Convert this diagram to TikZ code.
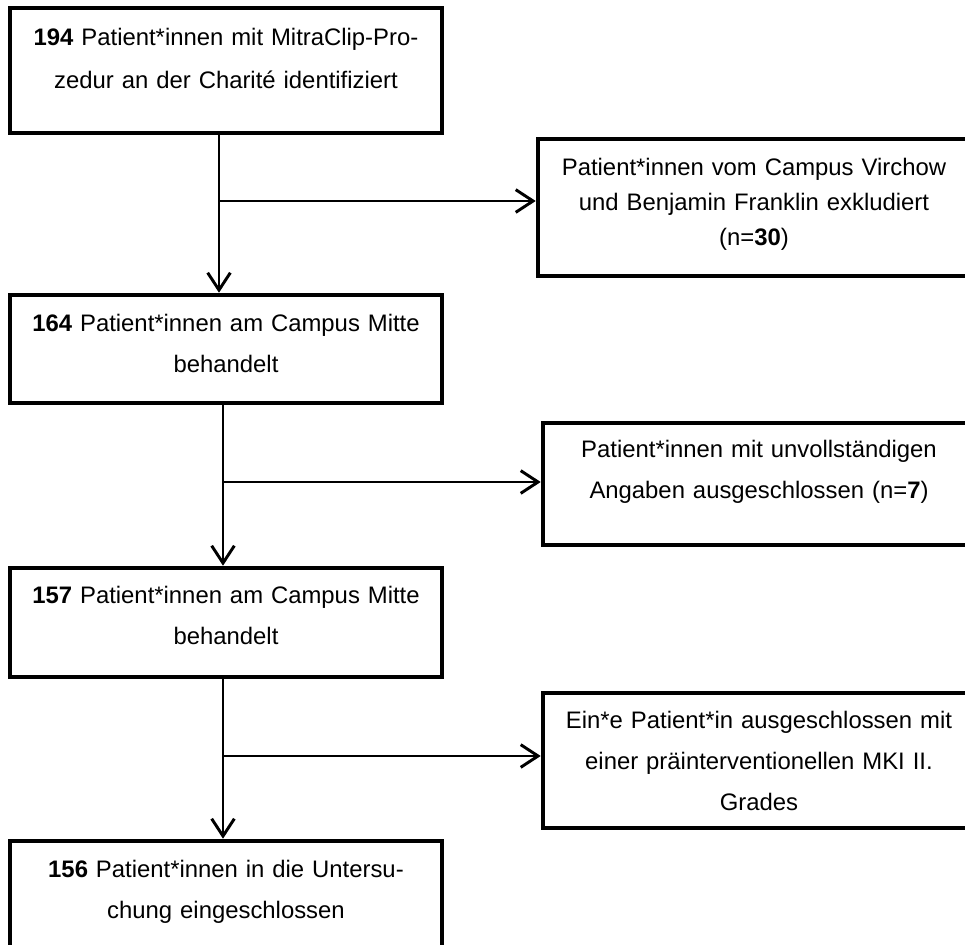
\documentclass[tikz,border=0pt]{standalone}
\usepackage{fontspec}
\setmainfont{Liberation Sans}
\usetikzlibrary{arrows.meta}
\tikzset{flowbox/.style 2 args={draw,line width=3.4pt,inner sep=0pt,text width=324pt,align=center,text height=#1,text depth=#2}}
\tikzset{flowarrow/.style={line width=2.2pt,-{Straight Barb[length=13pt,width=17pt]}}}

\begin{document}
\begin{tikzpicture}[x=0.75pt,y=-0.75pt,font=\fontsize{17.9pt}{31.1pt}\selectfont]
    \useasboundingbox (0,0) rectangle (965,945);
    \clip (0,0) rectangle (965,945);
    \node[flowbox={28pt}{65.75pt},font=\fontsize{17.9pt}{32.25pt}\selectfont] (b1) at (226,70.5)
        {\textbf{194} Patient*innen mit MitraClip-Pro-\\zedur an der Charité identifiziert};
    \node[flowbox={27.5pt}{75.25pt},font=\fontsize{17.9pt}{26.25pt}\selectfont] (e1) at (754,207.5)
        {Patient*innen vom Campus Virchow\\und Benjamin Franklin exkludiert\\(n=\textbf{30})};
    \node[flowbox={27pt}{54pt}] (b2) at (226,349)
        {\textbf{164} Patient*innen am Campus Mitte\\behandelt};
    \node[flowbox={25.5pt}{66pt}] (e2) at (759,484)
        {Patient*innen mit unvollständigen\\Angaben ausgeschlossen (n=\textbf{7})};
    \node[flowbox={26.25pt}{55.5pt}] (b3) at (226,622.5)
        {\textbf{157} Patient*innen am Campus Mitte\\behandelt};
    \node[flowbox={26.25pt}{75pt}] (e3) at (759,760.5)
        {Ein*e Patient*in ausgeschlossen mit\\einer präinterventionellen MKI II.\\Grades};
    \node[flowbox={27pt}{55.5pt}] (b4) at (226,896)
        {\textbf{156} Patient*innen in die Untersu-\\chung eingeschlossen};

    % main flow
    \draw[flowarrow] ([xshift=-5.25pt]b1.south) -- ([xshift=-5.25pt]b2.north);
    \draw[flowarrow] ([xshift=-2.25pt]b2.south) -- ([xshift=-2.25pt]b3.north);
    \draw[flowarrow] ([xshift=-2.25pt]b3.south) -- ([xshift=-2.25pt]b4.north);

    % exclusions
    \coordinate (j1) at (219,201);
    \coordinate (j2) at (223,482);
    \coordinate (j3) at (223,756);
    \draw[flowarrow] (j1) -- (j1 -| e1.west);
    \draw[flowarrow] (j2) -- (j2 -| e2.west);
    \draw[flowarrow] (j3) -- (j3 -| e3.west);
\end{tikzpicture}
\end{document}
